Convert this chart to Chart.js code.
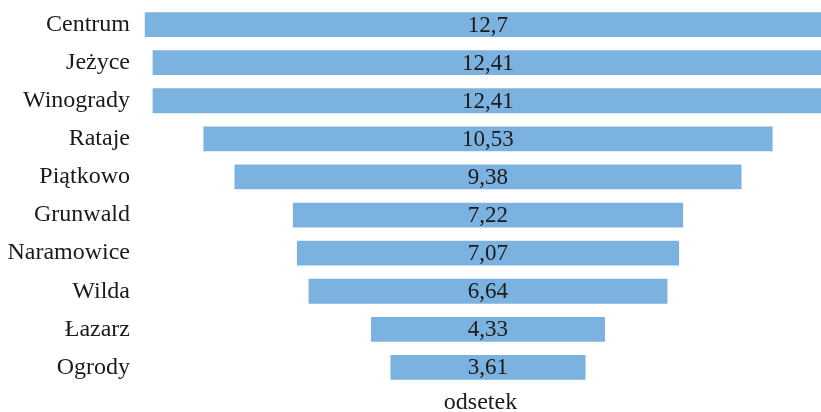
<!DOCTYPE html>
<html>
<head>
<meta charset="utf-8">
<script src="https://cdn.jsdelivr.net/npm/chart.js@4/dist/chart.umd.min.js"></script>
<style>
  html, body { margin: 0; padding: 0; background: #ffffff; overflow: hidden; }
  #wrap { width: 821px; height: 412px; position: relative; }
</style>
</head>
<body>
<div id="wrap"><canvas id="c" width="821" height="412"></canvas></div>
<script>
// Share of residents by district (percent)
const districts = ['Centrum', 'Jeżyce', 'Winogrady', 'Rataje', 'Piątkowo', 'Grunwald', 'Naramowice', 'Wilda', 'Łazarz', 'Ogrody'];
const shares = [12.7, 12.41, 12.41, 10.53, 9.38, 7.22, 7.07, 6.64, 4.33, 3.61];
const axisTitle = 'odsetek';

const FONT = "'Liberation Serif', 'DejaVu Serif', serif";
const TEXT = '#1a1a1a';
const BAR = '#7cb2e0';

// Funnel: each bar is centred on zero, spanning -v/2 .. +v/2
const spans = shares.map(v => [-v / 2, v / 2]);
const fmt = v => String(v).replace('.', ',');

const valueLabels = {
  id: 'valueLabels',
  afterDatasetsDraw(chart) {
    const ctx = chart.ctx;
    const meta = chart.getDatasetMeta(0);
    ctx.save();
    ctx.font = '23px ' + FONT;
    ctx.fillStyle = TEXT;
    ctx.textAlign = 'center';
    ctx.textBaseline = 'middle';
    meta.data.forEach((el, i) => {
      const cx = (el.x + el.base) / 2;
      ctx.fillText(fmt(shares[i]), cx, el.y + 1);
    });
    ctx.restore();
  }
};

new Chart(document.getElementById('c'), {
  type: 'bar',
  data: {
    labels: districts,
    datasets: [{
      data: spans,
      backgroundColor: BAR,
      borderWidth: 0,
      barPercentage: 0.65,
      categoryPercentage: 1.0
    }]
  },
  options: {
    indexAxis: 'y',
    responsive: false,
    animation: false,
    layout: { padding: { top: 5.5, right: 0, bottom: 0, left: 0 } },
    plugins: {
      legend: { display: false },
      tooltip: { enabled: false }
    },
    scales: {
      x: {
        min: -6.4385,
        max: 6.161,
        grid: { display: false, drawTicks: false },
        border: { display: false },
        ticks: { display: false },
        title: {
          display: true,
          text: axisTitle,
          color: TEXT,
          font: { family: FONT, size: 24 },
          padding: { top: 0, bottom: -5 }
        },
        afterFit(scale) { scale.height = 25.5; }
      },
      y: {
        grid: { display: false, drawTicks: false },
        border: { display: false },
        ticks: {
          color: TEXT,
          font: { family: FONT, size: 24 },
          padding: 10
        },
        afterFit(scale) {
          scale.width = 140;
          scale.paddingTop = 0;
          scale.paddingBottom = 0;
        }
      }
    }
  },
  plugins: [valueLabels]
});
</script>
</body>
</html>
